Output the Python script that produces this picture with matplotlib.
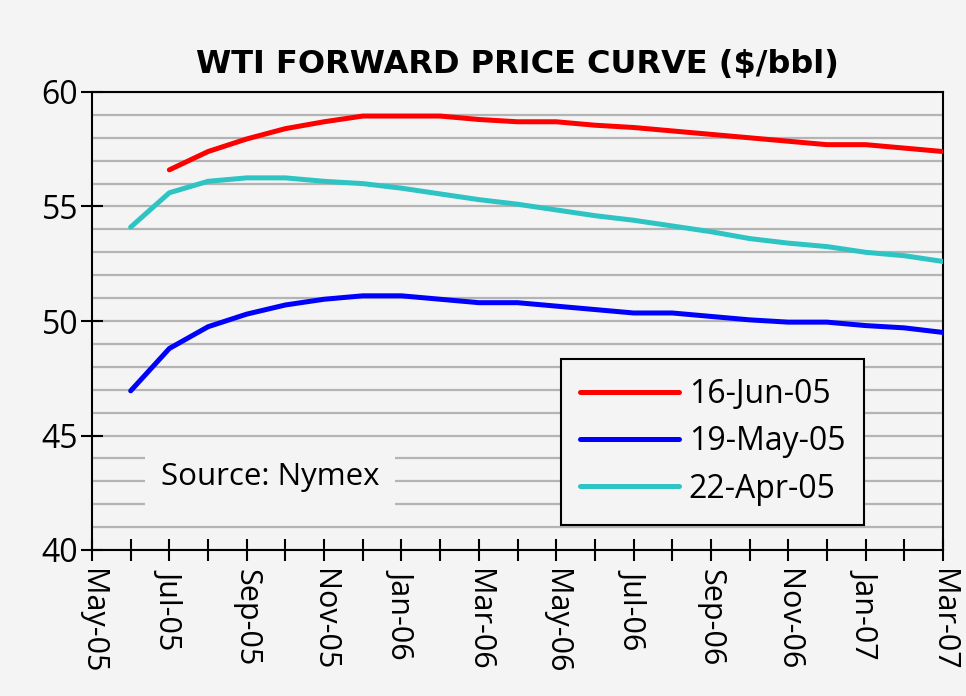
import matplotlib
matplotlib.use("Agg")
import matplotlib.pyplot as plt
import numpy as np

months = ["May-05", "Jun-05", "Jul-05", "Aug-05", "Sep-05", "Oct-05", "Nov-05", "Dec-05",
          "Jan-06", "Feb-06", "Mar-06", "Apr-06", "May-06", "Jun-06", "Jul-06", "Aug-06",
          "Sep-06", "Oct-06", "Nov-06", "Dec-06", "Jan-07", "Feb-07", "Mar-07"]

# values start at Jul-05 for red, Jun-05 for blue and cyan
jun16 = [56.6, 57.4, 57.95, 58.4, 58.7, 58.95, 58.95, 58.95, 58.8, 58.7, 58.7, 58.55,
         58.45, 58.3, 58.15, 58.0, 57.85, 57.7, 57.7, 57.55, 57.4]
may19 = [46.95, 48.8, 49.75, 50.3, 50.7, 50.95, 51.1, 51.1, 50.95, 50.8, 50.8, 50.65,
         50.5, 50.35, 50.35, 50.2, 50.05, 49.95, 49.95, 49.8, 49.7, 49.5]
apr22 = [54.1, 55.6, 56.1, 56.25, 56.25, 56.1, 56.0, 55.8, 55.55, 55.3, 55.1, 54.85,
         54.6, 54.4, 54.15, 53.9, 53.6, 53.4, 53.25, 53.0, 52.85, 52.6]
series_labels = ["16-Jun-05", "19-May-05", "22-Apr-05"]
colors = ["#ff0000", "#0000ff", "#2ec4c4"]

bg = "#f4f4f4"
plt.rcParams['font.family'] = ['Open Sans', 'DejaVu Sans']

fig = plt.figure(figsize=(9.66, 6.96), dpi=100, facecolor=bg)
ax = fig.add_axes([92/966, 1-550/696, (943-92)/966, (550-92)/696], facecolor=bg)

x = np.arange(len(months))
lw = 3.6
ax.plot(x[2:], jun16, color=colors[0], lw=lw, label=series_labels[0], solid_capstyle='round', zorder=3)
ax.plot(x[1:], may19, color=colors[1], lw=lw, label=series_labels[1], solid_capstyle='round', zorder=3)
ax.plot(x[1:], apr22, color=colors[2], lw=lw, label=series_labels[2], solid_capstyle='round', zorder=3)

ax.set_xlim(0, len(months) - 1)
ax.set_ylim(40, 60)
ax.set_yticks([40, 45, 50, 55, 60])
ax.set_yticks(np.arange(41, 60), minor=True)
ax.yaxis.grid(True, which='both', color='#b4b4b4', lw=1.6)
ax.set_axisbelow(True)
ax.tick_params(axis='y', which='minor', length=0)
ax.tick_params(axis='y', which='major', direction='inout', length=16, width=1.5, labelsize=23, pad=2)

ax.set_xticks(x)
ax.set_xticklabels([m if i % 2 == 0 else "" for i, m in enumerate(months)], rotation=270,
                   fontsize=22, va='top', ha='center')
ax.tick_params(axis='x', direction='inout', length=16, width=1.5, pad=6)

for s in ax.spines.values():
    s.set_linewidth(1.5)
    s.set_color('black')

ax.set_title("WTI FORWARD PRICE CURVE ($/bbl)", fontsize=23, fontweight='bold', pad=14,
             family=['DejaVu Sans'])

leg = ax.legend(loc='lower left', bbox_to_anchor=(0.551, 0.055), borderaxespad=0,
                fontsize=23, handlelength=3.1, handletextpad=0.3, labelspacing=0.45,
                frameon=True, fancybox=False, borderpad=0.6)
leg.get_frame().set_edgecolor('black')
leg.get_frame().set_linewidth(1.5)
leg.get_frame().set_facecolor(bg)
leg.get_frame().set_alpha(1)

ax.text(0.209, 0.16, "Source: Nymex", transform=ax.transAxes, fontsize=22.5,
        ha='center', va='center', zorder=4,
        bbox=dict(facecolor=bg, edgecolor='none', boxstyle='square,pad=0.5'))

fig.savefig("out.png", dpi=100, facecolor=bg)
